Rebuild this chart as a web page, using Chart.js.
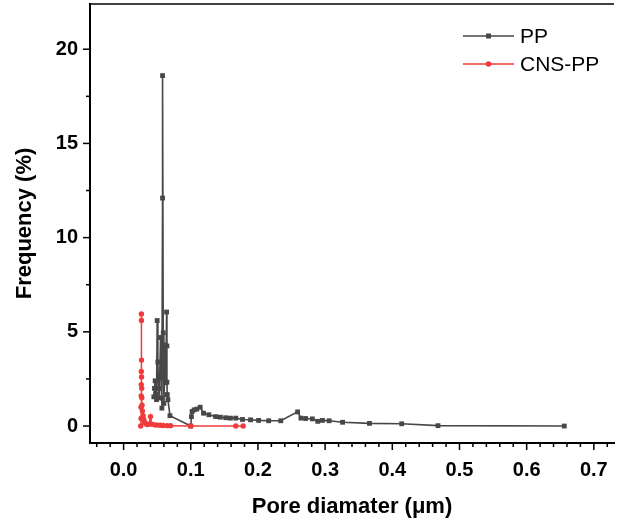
<!DOCTYPE html>
<html>
<head>
<meta charset="utf-8">
<script src="https://cdn.jsdelivr.net/npm/chart.js@4.4.1/dist/chart.umd.min.js"></script>
<style>
  html, body { margin: 0; padding: 0; background: #fff; }
  #wrap { width: 618px; height: 525px; }
</style>
</head>
<body>
<div id="wrap"><canvas id="poreChart" width="618" height="525"></canvas></div>
<script>
// -------------------------
// DATA
// -------------------------

const ppDiameter = [0.045, 0.046, 0.047, 0.048, 0.049, 0.050, 0.051, 0.052, 0.053, 0.055,
  0.056, 0.057, 0.057, 0.058, 0.058, 0.059, 0.060, 0.062, 0.063, 0.064,
  0.0645, 0.0645, 0.065, 0.066, 0.069, 0.100, 0.101, 0.102, 0.105, 0.109,
  0.114, 0.119, 0.127, 0.137, 0.144, 0.152, 0.159, 0.167, 0.177, 0.189,
  0.201, 0.216, 0.234, 0.259, 0.264, 0.271, 0.281, 0.289, 0.296, 0.306,
  0.326, 0.366, 0.414, 0.468, 0.656];
const ppFrequency = [1.55, 2.0, 2.4, 1.7, 1.4, 5.6, 3.4, 2.0, 1.5, 4.7,
  2.6, 0.95, 1.48, 12.1, 18.6, 4.95, 1.2, 4.3, 2.3, 6.05,
  4.25, 2.33, 1.67, 1.4, 0.55, 0.0, 0.5, 0.77, 0.86, 0.9,
  1.0, 0.68, 0.6, 0.5, 0.47, 0.44, 0.42, 0.42, 0.35, 0.33,
  0.3, 0.28, 0.28, 0.75, 0.42, 0.4, 0.38, 0.25, 0.3, 0.28,
  0.2, 0.14, 0.12, 0.02, 0.0];

const cnsDiameter = [0.0255, 0.026, 0.026, 0.0262, 0.0263, 0.0264, 0.0265, 0.0266, 0.0267, 0.0268,
  0.027, 0.0272, 0.0275, 0.028, 0.029, 0.030, 0.031, 0.033, 0.035, 0.038,
  0.040, 0.042, 0.047, 0.051, 0.055, 0.059, 0.065, 0.070, 0.100, 0.167, 0.178];
const cnsFrequency = [0.0, 0.4, 1.0, 1.6, 2.2, 2.9, 5.95, 5.6, 3.5, 2.6,
  2.0, 1.5, 1.1, 0.8, 0.55, 0.35, 0.2, 0.12, 0.08, 0.1,
  0.5, 0.1, 0.06, 0.05, 0.04, 0.03, 0.02, 0.02, 0.0, 0.0, 0.0];

const seriesNames = ["PP", "CNS-PP"];
const xTicks = [0, 0.1, 0.2, 0.3, 0.4, 0.5, 0.6, 0.7];
const yTicks = [0, 5, 10, 15, 20];

const ppColor = "#474747";
const cnsColor = "#ef3b3b";
const fontFamily = "'Liberation Sans', Arial, sans-serif";

function toPoints(xs, ys) {
    return xs.map((x, i) => ({ x: x, y: ys[i] }));
}

// no extra label padding around the plot box
function noPadding(scale) {
    scale.paddingTop = 0;
    scale.paddingBottom = 0;
    scale.paddingLeft = 0;
    scale.paddingRight = 0;
}

// -------------------------
// EXTRA DRAWING: ticks, top border, legend
// -------------------------

const axisDecor = {
    id: 'axisDecor',
    afterDraw(chart) {
        const ctx = chart.ctx;
        const area = chart.chartArea;
        const xs = chart.scales.x;
        const ys = chart.scales.y;
        ctx.save();
        ctx.strokeStyle = "#000";
        ctx.lineWidth = 1.5;

        // top border
        ctx.beginPath();
        ctx.moveTo(area.left, area.top);
        ctx.lineTo(area.right, area.top);
        ctx.stroke();

        // x ticks, minor every 0.02
        for (let i = -2; i <= 37; i++) {
            const px = xs.getPixelForValue(i * 0.02);
            if (px < area.left + 1 || px > area.right) continue;
            const len = (i % 5 === 0) ? 7 : 4;
            ctx.beginPath();
            ctx.moveTo(px, area.bottom);
            ctx.lineTo(px, area.bottom + len);
            ctx.stroke();
        }

        // y ticks, minor every 2.5
        for (let i = 0; i <= 8; i++) {
            const py = ys.getPixelForValue(i * 2.5);
            if (py < area.top) continue;
            const len = (i % 2 === 0) ? 7 : 4;
            ctx.beginPath();
            ctx.moveTo(area.left, py);
            ctx.lineTo(area.left - len, py);
            ctx.stroke();
        }

        // legend
        const colors = [ppColor, cnsColor];
        const styles = ['rect', 'circle'];
        ctx.font = "21px " + fontFamily;
        ctx.textBaseline = "middle";
        seriesNames.forEach((name, i) => {
            const y = 36 + i * 28;
            ctx.strokeStyle = colors[i];
            ctx.lineWidth = 1.5;
            ctx.beginPath();
            ctx.moveTo(463, y);
            ctx.lineTo(514, y);
            ctx.stroke();
            ctx.fillStyle = colors[i];
            ctx.beginPath();
            if (styles[i] === 'rect') ctx.rect(486, y - 2.5, 5, 5);
            else ctx.arc(488.5, y, 2.8, 0, Math.PI * 2);
            ctx.fill();
            ctx.fillStyle = "#000";
            ctx.fillText(name, 520, y + 1);
        });
        ctx.restore();
    }
};

// -------------------------
// CHART
// -------------------------

new Chart(document.getElementById("poreChart"), {
    type: 'line',
    data: {
        datasets: [{
            label: seriesNames[0],
            data: toPoints(ppDiameter, ppFrequency),
            borderColor: ppColor,
            backgroundColor: ppColor,
            borderWidth: 1.6,
            pointStyle: 'rect',
            pointRadius: 3.4,
            pointBorderWidth: 0,
            order: 1
        }, {
            label: seriesNames[1],
            data: toPoints(cnsDiameter, cnsFrequency),
            borderColor: cnsColor,
            backgroundColor: cnsColor,
            borderWidth: 1.5,
            pointStyle: 'circle',
            pointRadius: 2.7,
            pointBorderWidth: 0,
            order: 0
        }]
    },
    options: {
        responsive: false,
        animation: false,
        layout: { padding: { top: 3, right: 0, left: 0, bottom: 0 } },
        plugins: {
            legend: { display: false },
            tooltip: { enabled: false }
        },
        scales: {
            x: {
                type: 'linear',
                min: -0.05,
                max: 0.73,
                grid: { display: false, drawTicks: false },
                border: { display: true, color: "#000", width: 2 },
                afterBuildTicks: scale => { scale.ticks = xTicks.map(v => ({ value: v })); },
                afterFit: scale => { scale.height = 82; noPadding(scale); },
                ticks: {
                    color: "#000",
                    padding: 15,
                    maxRotation: 0,
                    font: { family: fontFamily, size: 20, weight: 'bold' },
                    callback: v => v.toFixed(1)
                },
                title: {
                    display: true,
                    text: "Pore diamater (μm)",
                    color: "#000",
                    font: { family: fontFamily, size: 22, weight: 'bold' },
                    padding: { top: 0, bottom: 5 }
                }
            },
            y: {
                type: 'linear',
                min: -0.9,
                max: 22.4,
                grid: { display: false, drawTicks: false },
                border: { display: true, color: "#000", width: 2 },
                afterBuildTicks: scale => { scale.ticks = yTicks.map(v => ({ value: v })); },
                afterFit: scale => { scale.width = 90; noPadding(scale); },
                ticks: {
                    color: "#000",
                    padding: 12,
                    font: { family: fontFamily, size: 20, weight: 'bold' }
                },
                title: {
                    display: true,
                    text: "Frequency (%)",
                    color: "#000",
                    font: { family: fontFamily, size: 22, weight: 'bold' },
                    padding: { top: 12, bottom: 0 }
                }
            }
        }
    },
    plugins: [axisDecor]
});
</script>
</body>
</html>
